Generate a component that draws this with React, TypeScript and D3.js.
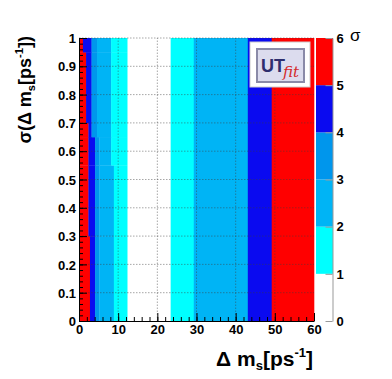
import React, { useRef, useEffect } from 'react';
import * as d3 from 'd3';

// significance levels (n sigma) -> colour band
const levelColors = ['#ffffff', '#00ffff', '#00b4f5', '#0096ec', '#0a0af0', '#ff0000'];
const levelTicks = [0, 1, 2, 3, 4, 5, 6];

// left part of the map changes with sigma(dms): one entry per row band
const rowEdges = [0, 0.3, 0.55, 0.65, 0.7, 0.95, 1];
const redEnd = [2.8, 2.4, 2.4, 2.4, 1.8, 1.0];
const blueEnd = [4.1, 4.1, 4.1, 3.2, 3.2, 3.2];
const midEnd = [5.2, 5.2, 5.2, 4.6, 4.6, 4.6];
const cyanStart = [8.9, 8.9, 8.2, 8.2, 8.2, 8.2];

// full-height columns further right
const colEdges = [12.4, 23.4, 29.3, 43.1, 49.2, 60];
const colLevels = [0, 1, 2, 4, 5];

const xTicks = [0, 10, 20, 30, 40, 50, 60];
const yTicks = [0, 0.1, 0.2, 0.3, 0.4, 0.5, 0.6, 0.7, 0.8, 0.9, 1];

export default function App() {
  const ref = useRef<SVGSVGElement>(null);

  useEffect(() => {
    const svg = d3.select(ref.current);
    svg.selectAll('*').remove();
    const font = '"Liberation Sans", Arial, Helvetica, sans-serif';

    const x = d3.scaleLinear().domain([0, 60]).range([79, 314]);
    const y = d3.scaleLinear().domain([0, 1]).range([321, 38]);
    const z = d3.scaleLinear().domain([0, 6]).range([321, 38]);

    // build cells
    const cells: { x0: number; x1: number; y0: number; y1: number; lv: number }[] = [];
    for (let i = 0; i < redEnd.length; i++) {
      const y0 = rowEdges[i], y1 = rowEdges[i + 1];
      const segs = [
        [0, redEnd[i], 5],
        [redEnd[i], blueEnd[i], 4],
        [blueEnd[i], midEnd[i], 3],
        [midEnd[i], cyanStart[i], 2],
        [cyanStart[i], colEdges[0], 1],
      ];
      segs.forEach(([a, b, lv]) => cells.push({ x0: a, x1: b, y0, y1, lv }));
    }
    colLevels.forEach((lv, i) =>
      cells.push({ x0: colEdges[i], x1: colEdges[i + 1], y0: 0, y1: 1, lv })
    );

    const g = svg.append('g');
    g.selectAll('rect.cell')
      .data(cells)
      .enter()
      .append('rect')
      .attr('class', 'cell')
      .attr('x', d => x(d.x0))
      .attr('width', d => x(d.x1) - x(d.x0) + 0.3)
      .attr('y', d => y(d.y1))
      .attr('height', d => y(d.y0) - y(d.y1) + 0.3)
      .attr('fill', d => levelColors[d.lv]);

    // grid
    const grid = svg.append('g')
      .attr('stroke', 'rgba(60,60,60,0.45)')
      .attr('stroke-dasharray', '1.5,1.5')
      .attr('stroke-width', 1);
    xTicks.slice(1, -1).forEach(t =>
      grid.append('line')
        .attr('x1', x(t)).attr('x2', x(t))
        .attr('y1', y(0)).attr('y2', y(1))
    );
    yTicks.slice(1).forEach(t =>
      grid.append('line')
        .attr('x1', x(0)).attr('x2', x(60))
        .attr('y1', y(t)).attr('y2', y(t))
    );

    // axes
    const xMinor = d3.range(0, 61, 2);
    svg.append('g')
      .attr('transform', `translate(0,${y(0)})`)
      .call(d3.axisBottom(x).tickValues(xMinor).tickSize(-4).tickFormat(() => ''))
      .call(a => a.select('.domain').remove());
    const xa = svg.append('g')
      .attr('transform', `translate(0,${y(0)})`)
      .call(d3.axisBottom(x).tickValues(xTicks).tickSize(-8).tickSizeOuter(0).tickPadding(4).tickFormat(d3.format('~g')));

    const yMinor = d3.range(0, 1.001, 0.02);
    svg.append('g')
      .attr('transform', `translate(${x(0)},0)`)
      .call(d3.axisLeft(y).tickValues(yMinor).tickSize(-4).tickFormat(() => ''))
      .call(a => a.select('.domain').remove());
    const ya = svg.append('g')
      .attr('transform', `translate(${x(0)},0)`)
      .call(d3.axisLeft(y).tickValues(yTicks).tickSize(-8).tickSizeOuter(0).tickPadding(3).tickFormat(d3.format('~g')));

    [xa, ya].forEach(a => {
      a.selectAll('text')
        .attr('font-family', font)
        .attr('font-weight', 'bold')
        .attr('font-size', 13)
        .attr('fill', '#000');
    });
    ya.selectAll('text').attr('dy', '0.36em');

    // colour scale bar
    const bar = svg.append('g');
    bar.selectAll('rect')
      .data(levelColors)
      .enter()
      .append('rect')
      .attr('x', 316)
      .attr('width', 17)
      .attr('y', (d, i) => z(i + 1))
      .attr('height', (d, i) => z(i) - z(i + 1))
      .attr('fill', d => d);
    const za = svg.append('g')
      .attr('transform', 'translate(332.5,0)')
      .call(d3.axisRight(z).tickValues(levelTicks).tickSize(-7).tickSizeOuter(0).tickPadding(4).tickFormat(d3.format('~g')));
    za.select('.domain').attr('stroke', '#999');
    za.selectAll('line').attr('stroke', '#999');
    za.selectAll('text')
      .attr('font-family', font)
      .attr('font-weight', 'bold')
      .attr('font-size', 13)
      .attr('fill', '#000');
    svg.append('text')
      .attr('x', 350)
      .attr('y', 41)
      .attr('font-family', font)
      .attr('font-size', 17)
      .text('σ');

    // axis titles (sub/superscripts as tspans), right-aligned to the axis end
    const title = (label: string, tail: string, size: number) => {
      const t = svg.append('text')
        .attr('font-family', font)
        .attr('font-weight', 'bold')
        .attr('font-size', size);
      const sub = size * 0.62;
      t.append('tspan').text(label);
      t.append('tspan').attr('font-size', sub).attr('dy', size * 0.2).text('s');
      t.append('tspan').attr('dy', -size * 0.2).text('[ps');
      t.append('tspan').attr('font-size', sub).attr('dy', -size * 0.43).text('-1');
      t.append('tspan').attr('dy', size * 0.43).text(tail);
      return t;
    };
    const xt = title('Δ m', ']', 21);
    const xw = (xt.node() as SVGTextElement).getBBox().width;
    xt.attr('x', 313 - xw).attr('y', 366);

    const yt = title('σ(Δ m', '])', 18);
    const yw = (yt.node() as SVGTextElement).getBBox().width;
    yt.attr('transform', `translate(31,${36 + yw}) rotate(-90)`);

    // UTfit logo
    const logo = svg.append('g');
    logo.append('rect')
      .attr('x', 250).attr('y', 42).attr('width', 60).attr('height', 45)
      .attr('fill', '#fff').attr('stroke', '#ccc');
    logo.append('rect')
      .attr('x', 257).attr('y', 49).attr('width', 47).attr('height', 33)
      .attr('fill', '#dcdcee').attr('stroke', '#8a8aa8').attr('stroke-width', 2);
    logo.append('text')
      .attr('x', 261).attr('y', 72)
      .attr('font-family', font).attr('font-weight', 'bold').attr('font-size', 18)
      .attr('fill', '#2e2e6e').text('UT');
    logo.append('text')
      .attr('x', 283).attr('y', 77)
      .attr('font-family', '"DejaVu Serif", "Liberation Serif", serif').attr('font-style', 'italic').attr('font-size', 15)
      .attr('fill', '#d42a2a').text('fit');
  }, []);

  return (
    <svg
      ref={ref}
      width={392}
      height={379}
      style={{ position: 'absolute', left: 0, top: 0, display: 'block', background: '#fff' }}
    />
  );
}
